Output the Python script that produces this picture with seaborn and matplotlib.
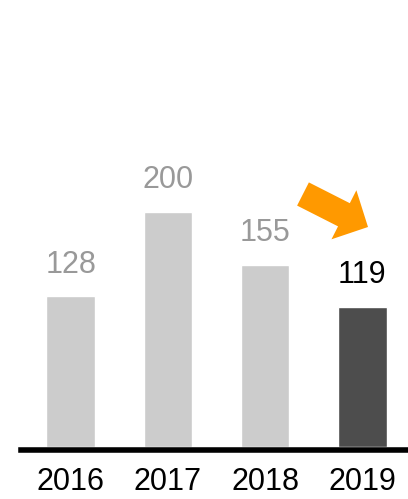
import matplotlib
matplotlib.use("Agg")
import matplotlib.pyplot as plt
from matplotlib.patches import FancyArrow
from matplotlib.transforms import IdentityTransform
import seaborn as sns

years = ["2016", "2017", "2018", "2019"]
values = [128, 200, 155, 119]
bar_colors = ["#cccccc", "#cccccc", "#cccccc", "#4d4d4d"]
label_colors = ["#999999", "#999999", "#999999", "#000000"]

sns.set_theme(style="white")
plt.rcParams["font.family"] = ["Liberation Sans", "DejaVu Sans"]

W, H = 408, 499
fig = plt.figure(figsize=(W / 100, H / 100), dpi=100)
ax = fig.add_axes([21 / W, (H - 447) / H, (W - 21) / W, 447 / H])

sns.barplot(x=years, y=values, hue=years, palette=bar_colors,
            legend=False, width=0.5, saturation=1, ax=ax)

ax.set_xlim(-0.51, 3.47)
ax.set_ylim(0, 380)

for i, (v, c) in enumerate(zip(values, label_colors)):
    ax.annotate(str(v), (i, v), xytext=(0, 12), textcoords="offset points",
                ha="center", va="bottom", fontsize=22, color=c)

for side in ["top", "left", "right"]:
    ax.spines[side].set_visible(False)
ax.spines["bottom"].set_linewidth(4)
ax.spines["bottom"].set_color("black")
ax.spines["bottom"].set_position(("outward", 1.8))
ax.set_yticks([])
ax.tick_params(axis="x", length=0, pad=12.5, labelsize=22, colors="black")
ax.set_xlabel("")
ax.set_ylabel("")

# downward trend arrow, drawn in pixel space
tail = (303, H - 194)
tip = (368, H - 227)
arrow = FancyArrow(tail[0], tail[1], tip[0] - tail[0], tip[1] - tail[1],
                   width=26, head_width=55, head_length=27,
                   length_includes_head=True, color="#ff9900", lw=0,
                   transform=IdentityTransform())
fig.patches.append(arrow)

fig.savefig("out.png", dpi=100)
